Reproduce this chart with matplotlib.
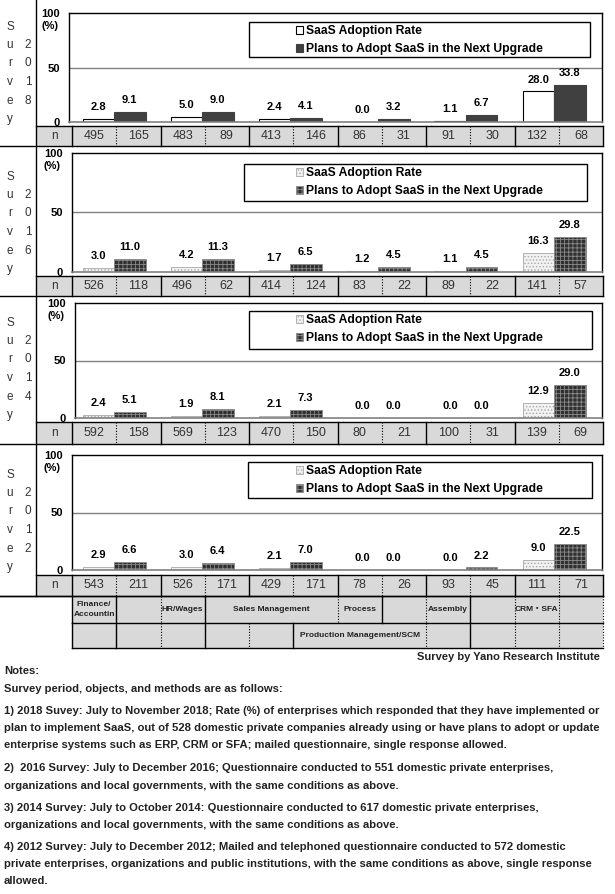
import numpy as np
import matplotlib
matplotlib.use('Agg')
import matplotlib.pyplot as plt
from matplotlib.patches import Rectangle

plt.rcParams['font.family'] = ['Liberation Sans', 'Noto Sans CJK JP', 'DejaVu Sans']
plt.rcParams['hatch.linewidth'] = 0.6

# values (%), 6 system categories per survey
adopt_2018 = [2.8, 5.0, 2.4, 0.0, 1.1, 28.0]
plans_2018 = [9.1, 9.0, 4.1, 3.2, 6.7, 33.8]
n_2018 = [495, 165, 483, 89, 413, 146, 86, 31, 91, 30, 132, 68]

adopt_2016 = [3.0, 4.2, 1.7, 1.2, 1.1, 16.3]
plans_2016 = [11.0, 11.3, 6.5, 4.5, 4.5, 29.8]
n_2016 = [526, 118, 496, 62, 414, 124, 83, 22, 89, 22, 141, 57]

adopt_2014 = [2.4, 1.9, 2.1, 0.0, 0.0, 12.9]
plans_2014 = [5.1, 8.1, 7.3, 0.0, 0.0, 29.0]
n_2014 = [592, 158, 569, 123, 470, 150, 80, 21, 100, 31, 139, 69]

adopt_2012 = [2.9, 3.0, 2.1, 0.0, 0.0, 9.0]
plans_2012 = [6.6, 6.4, 7.0, 0.0, 2.2, 22.5]
n_2012 = [543, 211, 526, 171, 429, 171, 78, 26, 93, 45, 111, 71]

series_labels = ['SaaS Adoption Rate', 'Plans to Adopt SaaS in the Next Upgrade']

# category table under the charts: (first col, last col, text)
cat_row1 = [(0, 0, 'Finance/\nAccountin'), (2, 2, 'HR/Wages'), (3, 5, 'Sales Management'),
            (6, 6, 'Process'), (8, 8, 'Assembly'), (10, 10, 'CRM・SFA')]
cat_row2 = [(5, 7, 'Production Management/SCM')]

notes = [
    'Notes:',
    'Survey period, objects, and methods are as follows:',
    '1) 2018 Suvey: July to November 2018; Rate (%) of enterprises which responded that they have implemented or',
    'plan to implement SaaS, out of 528 domestic private companies already using or have plans to adopt or update',
    'enterprise systems such as ERP, CRM or SFA; mailed questionnaire, single response allowed.',
    '2)  2016 Survey: July to December 2016; Questionnaire conducted to 551 domestic private enterprises,',
    'organizations and local governments, with the same conditions as above.',
    '3) 2014 Survey: July to October 2014: Questionnaire conducted to 617 domestic private enterprises,',
    'organizations and local governments, with the same conditions as above.',
    '4) 2012 Survey: July to December 2012; Mailed and telephoned questionnaire conducted to 572 domestic',
    'private enterprises, organizations and public institutions, with the same conditions as above, single response',
    'allowed.',
]
notes_y = [671, 689, 711, 728, 745, 768, 786, 808, 825, 847, 864, 881]

W, H = 615, 894
fig = plt.figure(figsize=(W / 100, H / 100), dpi=100)

# overlay in pixel coords for the table / text
ov = fig.add_axes([0, 0, 1, 1])
ov.set_xlim(0, W)
ov.set_ylim(H, 0)
ov.axis('off')
ov.set_zorder(10)

def frect(l, t, r, b):
    return [l / W, 1 - b / H, (r - l) / W, (b - t) / H]

col0, colw = 72, 44.25
col_x = col0 + colw * np.arange(13)
GRP0, GRPW, BARW = 114, 88, 31.5
RIGHT = 602

panels = [
    ('2018', adopt_2018, plans_2018, n_2018, 69, 13, 122, 126, 146, (249, 22, 590, 57)),
    ('2016', adopt_2016, plans_2016, n_2016, 72, 153, 272, 276, 296, (244, 164, 587, 201)),
    ('2014', adopt_2014, plans_2014, n_2014, 75, 303, 418, 422, 444, (249, 311, 592, 349)),
    ('2012', adopt_2012, plans_2012, n_2012, 72, 455, 570, 575, 596, (248, 462, 592, 498)),
]

for year, adopt, plans, nvals, L, top, zero, ntop, nbot, lbox in panels:
    ax = fig.add_axes(frect(L, top, RIGHT, zero))
    x = np.arange(len(adopt))
    w = BARW / GRPW
    if year == '2018':
        b1 = ax.bar(x - w / 2, adopt, w, color='white', edgecolor='black', lw=0.8)
        b2 = ax.bar(x + w / 2, plans, w, color='#404040', edgecolor='#404040', lw=0.8)
    else:
        b1 = ax.bar(x - w / 2, adopt, w, color='#f2f2f2', edgecolor='#a8a8a8', hatch='.....', lw=0.6)
        b2 = ax.bar(x + w / 2, plans, w, color='#303030', edgecolor='#8a8a8a', hatch='++++', lw=0.6)
    for bars, vals in ((b1, adopt), (b2, plans)):
        for r, v in zip(bars, vals):
            ax.annotate(f'{v:.1f}', (r.get_x() + r.get_width() / 2, v), xytext=(0, 8.6),
                        textcoords='offset points', ha='center', va='center',
                        fontweight='bold', fontsize=8)
    ax.set_xlim((L - GRP0) / GRPW, (RIGHT - GRP0) / GRPW)
    ax.set_ylim(0, 100)
    ax.axhline(50, color='#808080', lw=1, zorder=0)
    ax.set_xticks([])
    ax.set_yticks([0, 50, 100])
    ax.set_yticklabels(['0', '50', '100'], fontweight='bold', fontsize=8)
    ax.tick_params(axis='y', length=0, pad=6.5)
    for s in ('top', 'left', 'right'):
        ax.spines[s].set_linewidth(1.0)
    ax.spines['bottom'].set_color('#808080')
    ax.spines['bottom'].set_linewidth(1.2)
    ov.text(L - 11, top + 13, '(%)', ha='right', va='center', fontweight='bold', fontsize=8)

    # legend + its box
    l, t, r, b = lbox
    ax.legend([b1, b2], series_labels, loc='upper left',
              bbox_to_anchor=(296 / W, 1 - (t + 3) / H), bbox_transform=fig.transFigure,
              frameon=False, borderpad=0, borderaxespad=0, handlelength=0.6,
              handleheight=0.6, handletextpad=0.2, labelspacing=0.5,
              prop=dict(weight='bold', size=8.7))
    ov.add_patch(Rectangle((l, t), r - l, b - t, fill=False, ec='black', lw=1))

    # "Survey" + year written vertically
    for k, ch in enumerate('Survey'):
        yy = zero - 3 - 18.5 * (5 - k)
        ov.text(10, yy, ch, ha='center', va='center', fontsize=8.5, color='#333333')
        if 1 <= k <= 4:
            ov.text(28, yy, year[k - 1], ha='center', va='center', fontsize=8.5, color='#333333')

    # n row
    ov.add_patch(Rectangle((36, ntop), col_x[-1] - 36, nbot - ntop, fc='#d9d9d9', ec='none'))
    ov.plot([36, col_x[-1]], [ntop, ntop], color='black', lw=1)
    ov.plot([0, col_x[-1]], [nbot, nbot], color='black', lw=1)
    ym = (ntop + nbot) / 2
    ov.text(54, ym, 'n', ha='center', va='center', fontsize=8.5, color='#333333')
    for k, xx in enumerate(col_x):
        if k % 2 == 1:
            ov.plot([xx, xx], [ntop, nbot], color='black', lw=0.8, ls=(0, (1, 1.5)))
        else:
            ov.plot([xx, xx], [ntop, nbot], color='black', lw=1)
    for k, nv in enumerate(nvals):
        ov.text(col_x[k] + colw / 2, ym, str(nv), ha='center', va='center', fontsize=9,
                color='#333333')

# left divider
ov.plot([36, 36], [0, 596], color='black', lw=1)

# category rows
rows = [(596, 623, cat_row1, {1: '-', 2: ':', 3: '-', 6: ':', 7: '-', 8: ':', 9: '-', 10: ':', 11: ':', 12: ':'}),
        (623, 648, cat_row2, {1: '-', 2: ':', 3: '-', 4: ':', 5: '-', 8: ':', 9: '-', 10: ':', 11: ':', 12: ':'})]
for rt, rb, cells, seps in rows:
    ov.add_patch(Rectangle((col_x[0], rt), col_x[-1] - col_x[0], rb - rt, fc='#d9d9d9', ec='none'))
    ov.plot([col_x[0], col_x[-1]], [rb, rb], color='black', lw=1)
    ov.plot([col_x[0], col_x[0]], [rt, rb], color='black', lw=1)
    for k, st in seps.items():
        if st == '-':
            ov.plot([col_x[k]] * 2, [rt, rb], color='black', lw=1)
        else:
            ov.plot([col_x[k]] * 2, [rt, rb], color='black', lw=0.8, ls=(0, (1, 1.5)))
    for c0, c1, txt in cells:
        ov.text((col_x[c0] + col_x[c1 + 1]) / 2, (rt + rb) / 2, txt, ha='center', va='center',
                fontsize=6, fontweight='bold', linespacing=1.6, color='#222222')
ov.plot([0, col_x[-1]], [596, 596], color='black', lw=1)

ov.text(600, 657, 'Survey by Yano Research Institute', ha='right', va='center',
        fontsize=8, fontweight='bold', color='#222222')
for txt, yy in zip(notes, notes_y):
    ov.text(4, yy, txt, ha='left', va='center', fontsize=8.1, fontweight='bold', color='#222222')

fig.savefig('out.png', dpi=100)
